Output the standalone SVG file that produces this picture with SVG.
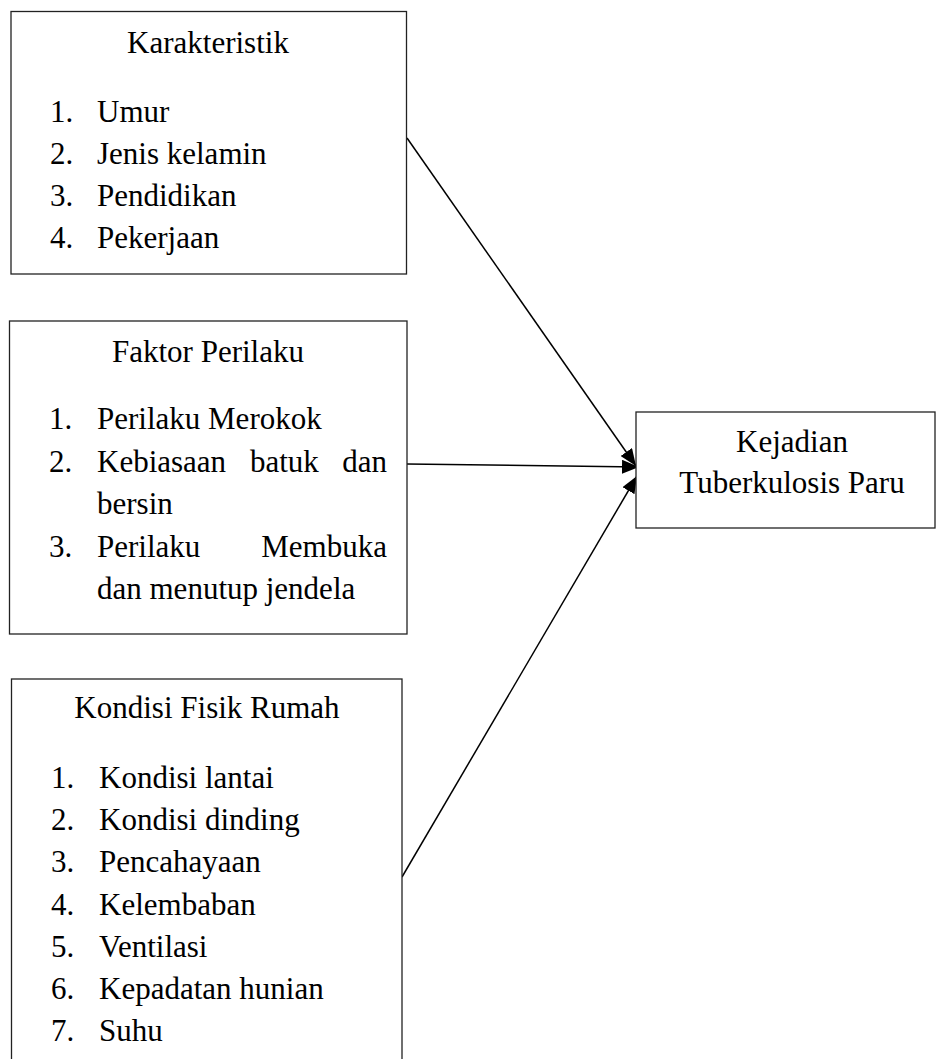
<svg xmlns="http://www.w3.org/2000/svg" width="936" height="1059" viewBox="0 0 936 1059">
<style>
.box{fill:#fff;stroke:#222;stroke-width:1.3}
.t{font-family:'Liberation Serif','Tinos','DejaVu Serif',serif;font-size:31px;fill:#000}
.c{text-anchor:middle}
.e{stroke:#000;stroke-width:1.5;fill:none}
</style>
<defs>
<marker id="ah" markerUnits="userSpaceOnUse" markerWidth="18" markerHeight="14" refX="17" refY="7" orient="auto">
<path d="M0,0 L17,7 L0,14 Z" fill="#000"/>
</marker>
</defs>
<rect width="936" height="1059" fill="#fff"/>
<g id="connectors">
<line class="e" x1="407" y1="138" x2="636" y2="466" marker-end="url(#ah)"/>
<line class="e" x1="407" y1="464" x2="639" y2="467" marker-end="url(#ah)"/>
<line class="e" x1="402" y1="877" x2="637" y2="476" marker-end="url(#ah)"/>
</g>
<g id="karakteristik">
<rect class="box" x="11" y="11.5" width="395.5" height="262.5"/>
<text class="t c" x="208" y="53">Karakteristik</text>
<text class="t" x="50" y="121.5">1.</text><text class="t" x="97" y="121.5">Umur</text>
<text class="t" x="50" y="163.5">2.</text><text class="t" x="97" y="163.5">Jenis kelamin</text>
<text class="t" x="50" y="205.5">3.</text><text class="t" x="97" y="205.5">Pendidikan</text>
<text class="t" x="50" y="247.5">4.</text><text class="t" x="97" y="247.5">Pekerjaan</text>
</g>
<g id="faktor-perilaku">
<rect class="box" x="9.5" y="321" width="397.5" height="313"/>
<text class="t c" x="208" y="362">Faktor Perilaku</text>
<text class="t" x="49" y="429">1.</text><text class="t" x="97" y="429">Perilaku Merokok</text>
<text class="t" x="49" y="471.5">2.</text><text class="t" x="97" y="471.5">Kebiasaan</text><text class="t" x="250" y="471.5">batuk</text><text class="t" x="387" y="471.5" text-anchor="end">dan</text>
<text class="t" x="97" y="514">bersin</text>
<text class="t" x="49" y="556.5">3.</text><text class="t" x="97" y="556.5">Perilaku</text><text class="t" x="387" y="556.5" text-anchor="end">Membuka</text>
<text class="t" x="97" y="599">dan menutup jendela</text>
</g>
<g id="kondisi-fisik-rumah">
<rect class="box" x="11.5" y="679" width="390.5" height="400"/>
<text class="t c" x="207" y="718">Kondisi Fisik Rumah</text>
<text class="t" x="51" y="788">1.</text><text class="t" x="99" y="788">Kondisi lantai</text>
<text class="t" x="51" y="830">2.</text><text class="t" x="99" y="830">Kondisi dinding</text>
<text class="t" x="51" y="872">3.</text><text class="t" x="99" y="872">Pencahayaan</text>
<text class="t" x="51" y="914.5">4.</text><text class="t" x="99" y="914.5">Kelembaban</text>
<text class="t" x="51" y="956.5">5.</text><text class="t" x="99" y="956.5">Ventilasi</text>
<text class="t" x="51" y="998.5">6.</text><text class="t" x="99" y="998.5">Kepadatan hunian</text>
<text class="t" x="51" y="1041">7.</text><text class="t" x="99" y="1041">Suhu</text>
</g>
<g id="kejadian-tb">
<rect class="box" x="636" y="412" width="299" height="116"/>
<text class="t c" x="792" y="452">Kejadian</text>
<text class="t c" x="792" y="493">Tuberkulosis Paru</text>
</g>
</svg>
